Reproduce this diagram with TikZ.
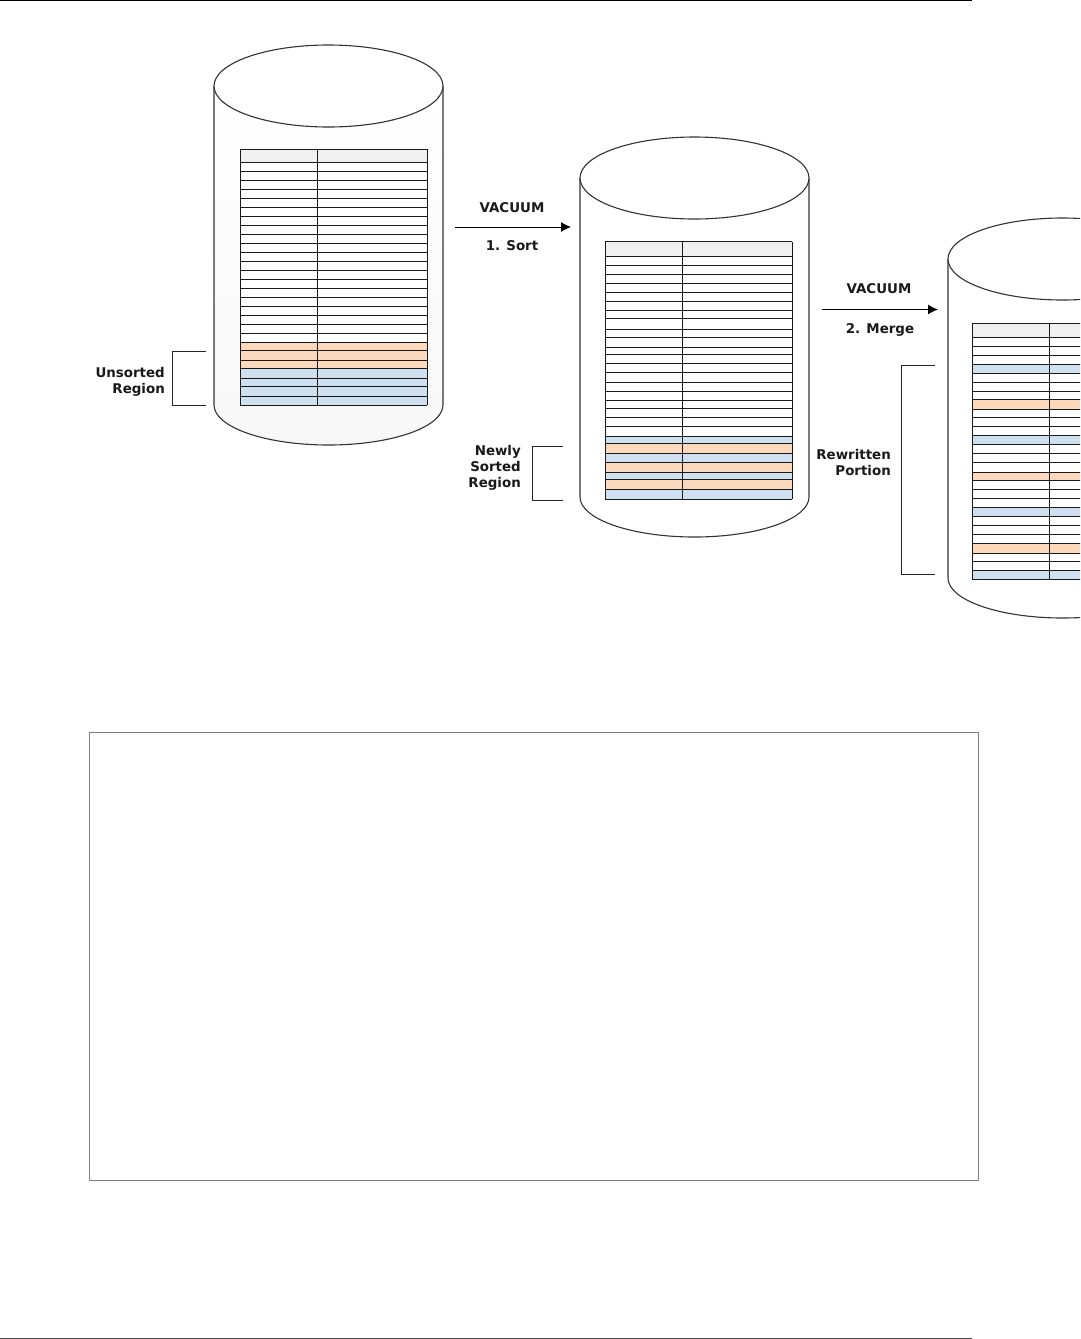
\documentclass[tikz,border=0pt]{standalone}
\usepackage{fontspec}
\setmainfont{DejaVu Sans}
\usepackage{tikz}
\usetikzlibrary{arrows.meta}

\definecolor{rowblue}{HTML}{CFE0F1}
\definecolor{roworange}{HTML}{FCD9BD}
\definecolor{rowhead}{HTML}{F0F0F0}
\tikzset{
  tablerule/.style={black!90,line width=0.9pt},
  canedge/.style={black!80,line width=1.1pt},
  bracket/.style={black!85,line width=1pt},
  steplabel/.style={font=\fontsize{13.4}{16.2}\selectfont\bfseries,text=black!90,inner sep=0pt,align=center},
  sidelabel/.style={steplabel,align=right,anchor=east},
  steparrow/.style={black,line width=1pt,-{Latex[length=10pt,width=10pt]}}
}

\begin{document}
\begin{tikzpicture}[x=1pt,y=-1pt]
  \useasboundingbox (0,0) rectangle (1080,1339);
  \clip (0,0) rectangle (1080,1339);

  % page rules and the empty frame
  \draw[black,line width=1pt] (0,0.5) -- (972,0.5);
  \draw[black!70,line width=1pt] (0,1338.5) -- (972,1338.5);
  \draw[black!50,line width=1pt] (89.5,732.5) rectangle (978.5,1180.5);

  % first can
  \begin{scope}[shift={(0,86)}]
    \shade[top color=white,bottom color=black!3] (214,0) -- (214,319)
      arc[start angle=180,end angle=0,x radius=114.5,y radius=40] -- (443,0) -- cycle;
    \draw[canedge] (214,0) -- (214,319) arc[start angle=180,end angle=0,x radius=114.5,y radius=40] -- (443,0);
    \draw[canedge,fill=white] (328.5,0) ellipse [x radius=114.5, y radius=41];
  \end{scope}
  \fill[rowhead] (240,149) rectangle (427,162);
  \fill[white] (240,162) rectangle (427,342);
  \fill[roworange] (240,342) rectangle (427,368);
  \fill[rowblue] (240,368) rectangle (427,405);
  \foreach \y in {149,162,171,180,189,198,207,216,225,234,243,252,261,270,279,288,297,306,315,324,333,342,350,360,368,378,386,396,405}
    \draw[tablerule] (240,\y) -- (427,\y);
  \foreach \x in {240,317,427}
    \draw[tablerule] (\x,149) -- (\x,405);

  % second can
  \begin{scope}[shift={(366,178)}]
    \draw[canedge,fill=white] (214,0) -- (214,319) arc[start angle=180,end angle=0,x radius=114.5,y radius=40] -- (443,0);
    \draw[canedge,fill=white] (328.5,0) ellipse [x radius=114.5, y radius=41];
  \end{scope}
  \fill[rowhead] (605,241.5) rectangle (792,256);
  \fill[rowblue] (605,436) rectangle (792,499);
  \foreach \a/\b in {443/453,462/472,479/489}
    \fill[roworange] (605,\a) rectangle (792,\b);
  \foreach \y in {241.5,256,265,274,283,292,301,310,318,329,337,347,354,363,372,382,391,400,408,417,426,436,443,453,462,472,479,489,499}
    \draw[tablerule] (605,\y) -- (792,\y);
  \foreach \x in {605,682,792}
    \draw[tablerule] (\x,241.5) -- (\x,499);

  % third can, cut by the page edge
  \begin{scope}[shift={(734,259)}]
    \draw[canedge,fill=white] (214,0) -- (214,319) arc[start angle=180,end angle=0,x radius=114.5,y radius=40] -- (443,0);
    \draw[canedge,fill=white] (328.5,0) ellipse [x radius=114.5, y radius=41];
  \end{scope}
  \fill[rowhead] (972,323) rectangle (1159,337);
  \foreach \a/\b in {364/373,435/444,507/516,570/579}
    \fill[rowblue] (972,\a) rectangle (1159,\b);
  \foreach \a/\b in {399/409,472/480,543/553}
    \fill[roworange] (972,\a) rectangle (1159,\b);
  \foreach \y in {323,337,346,355,364,373,382,391,399,409,417,426,435,444,453,462,472,480,489,498,507,516,525,534,543,553,561,570,579}
    \draw[tablerule] (972,\y) -- (1159,\y);
  \foreach \x in {972,1049,1159}
    \draw[tablerule] (\x,323) -- (\x,579);

  % brackets
  \coordinate (unsortedtop) at (206,351);
  \coordinate (unsortedbot) at (206,405);
  \draw[bracket] (unsortedtop) -- (172.5,351) -- (172.5,405) -- (unsortedbot);
  \coordinate (sortedtop) at (563,446);
  \coordinate (sortedbot) at (563,500);
  \draw[bracket] (sortedtop) -- (532.5,446) -- (532.5,500) -- (sortedbot);
  \coordinate (rewrittentop) at (935,365);
  \coordinate (rewrittenbot) at (935,574);
  \draw[bracket] (rewrittentop) -- (901.5,365) -- (901.5,574) -- (rewrittenbot);

  % labels
  \node[sidelabel] (unsorted) at (165,382) {Unsorted\\Region};
  \node[sidelabel] (sorted) at (521,468) {Newly\\Sorted\\Region};
  \node[sidelabel] (rewritten) at (891,462.5) {Rewritten\\Portion};

  % arrows between the cans
  \coordinate (sortstart) at (455,227);
  \coordinate (sortend) at (571,227);
  \draw[steparrow] (sortstart) -- (sortend);
  \node[steplabel] (vacuumone) at (512,208) {VACUUM};
  \node[steplabel] (sortlabel) at (512,246) {1. Sort};
  \coordinate (mergestart) at (822,309.5);
  \coordinate (mergeend) at (938,309.5);
  \draw[steparrow] (mergestart) -- (mergeend);
  \node[steplabel] (vacuumtwo) at (879,289) {VACUUM};
  \node[steplabel] (mergelabel) at (880,329.5) {2. Merge};
\end{tikzpicture}
\end{document}
